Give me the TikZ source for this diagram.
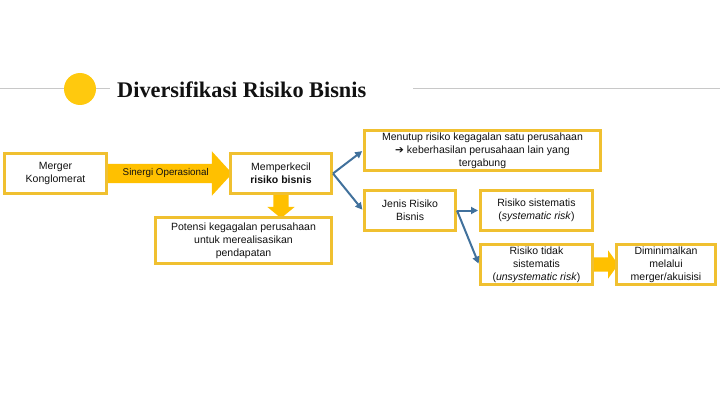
\documentclass[tikz,border=0pt]{standalone}
\usepackage{fontspec}
\setmainfont{Liberation Sans}
\newfontfamily\titlefont{Liberation Serif}
\newfontfamily\symfont{DejaVu Sans}
\usetikzlibrary{arrows.meta,positioning,shapes.arrows,backgrounds}
\definecolor{gold}{HTML}{F0C030}
\definecolor{amber}{HTML}{FFC000}
\definecolor{sun}{HTML}{FFC90E}
\definecolor{steel}{HTML}{41719C}
\definecolor{rule}{HTML}{C8C8C8}
\definecolor{ink}{HTML}{111111}
\tikzset{
  >=Latex,
  every node/.style={font=\fontsize{10.5}{12.8}\selectfont,text=ink},
  box/.style={draw=gold,line width=3pt,fill=white,align=center,inner sep=1pt,minimum height=40pt},
  blockarrow/.style={single arrow,fill=amber,draw=none,inner xsep=0pt},
  link/.style={-{Triangle[length=7pt,width=7pt]},line width=2pt,draw=steel,shorten >=1pt},
}
\begin{document}
\begin{tikzpicture}[x=1pt,y=1pt]
  \useasboundingbox (0,0) rectangle (720,405);
  % header
  \draw[rule,line width=1pt] (0,316) -- (110,316);
  \draw[rule,line width=1pt] (413,316) -- (720,316);
  \node[circle,fill=sun,minimum size=32pt,inner sep=0pt] (dot) at (80,316) {};
  \node[anchor=base west,inner sep=0pt,font=\titlefont\bfseries\fontsize{22.3}{24}\selectfont] (title) at (117,307) {Diversifikasi Risiko Bisnis};

  \node[box,minimum width=102pt] (merger) at (55.5,231.5) {Merger\\Konglomerat};
  \node[box,minimum width=101pt] (shrink) at (281,231.5) {Memperkecil\\\textbf{risiko bisnis}};
  \node[box,minimum width=176pt,minimum height=46pt] (failure) at (243.5,164.5) {Potensi kegagalan perusahaan\\untuk merealisasikan\\pendapatan};
  \node[box,minimum width=236pt] (cover) at (482.5,254.5) {Menutup risiko kegagalan satu perusahaan\\{\symfont ➔} keberhasilan perusahaan lain yang\\tergabung};
  \node[box,minimum width=91pt] (kinds) at (410,194.5) {Jenis Risiko\\Bisnis};
  \node[box,minimum width=112pt] (sys) at (536.5,194.5) {Risiko sistematis\\(\textit{systematic risk})};
  \node[box,minimum width=112pt] (unsys) at (536.5,140.5) {Risiko tidak\\sistematis\\(\textit{unsystematic risk})};
  \node[box,minimum width=99pt] (reduce) at (666,140.5) {Diminimalkan\\melalui\\merger/akuisisi};

  \begin{scope}[on background layer]
    \node[blockarrow,anchor=tail,minimum height=124pt,single arrow head extend=12.5pt,single arrow tip angle=95,
      inner ysep=5.75pt,text height=6pt,text depth=1.5pt,font=\fontsize{9.8}{11}\selectfont] (synergy) at (merger.east) {Sinergi Operasional};
    \node[blockarrow,anchor=tail,rotate=-90,minimum height=23pt,single arrow head extend=6pt,single arrow tip angle=101,
      inner ysep=7.5pt,text height=0pt,text depth=0pt] (drop) at (shrink.south) {};
    \node[blockarrow,anchor=tail,minimum height=24pt,single arrow head extend=7pt,single arrow tip angle=109,
      inner ysep=7pt,text height=0pt,text depth=0pt] (push) at (unsys.east) {};
  \end{scope}

  \draw[link] (shrink.east) -- (cover.west);
  \draw[link] (shrink.east) -- (kinds.west);
  \draw[link] (kinds.east) -- (sys.west);
  \draw[link] (kinds.east) -- (unsys.west);
\end{tikzpicture}
\end{document}
